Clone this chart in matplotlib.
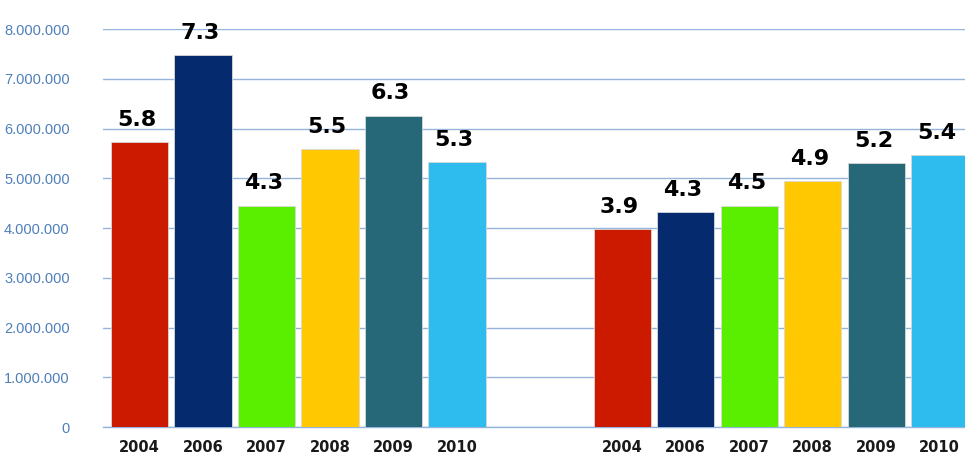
import numpy as np
import matplotlib.pyplot as plt

# 数据
years = ['2004', '2006', '2007', '2008', '2009', '2010']
group1 = [5.73, 7.48, 4.45, 5.59, 6.26, 5.33]   # 百万
group2 = [3.98, 4.32, 4.45, 4.94, 5.31, 5.47]
labels1 = ['5.8', '7.3', '4.3', '5.5', '6.3', '5.3']
labels2 = ['3.9', '4.3', '4.5', '4.9', '5.2', '5.4']
colors = ['#cc1a00', '#052a6e', '#5aee00', '#ffc800', '#266878', '#2ebbee']
yticks = [0, 1000000, 2000000, 3000000, 4000000, 5000000, 6000000, 7000000, 8000000]

fig = plt.figure(figsize=(9.65, 4.59), dpi=100)
ax = fig.add_axes([0.1067, 0.0697, 0.8933, 0.8665])

x1 = np.arange(6)
x2 = x1 + 7.6
v1 = np.array(group1) * 1e6
v2 = np.array(group2) * 1e6

for xs, vs, labs in [(x1, v1, labels1), (x2, v2, labels2)]:
    ax.bar(xs, vs, width=0.9, color=colors, edgecolor='#d8d8d8', linewidth=0.6, zorder=3)
    for x, v, t in zip(xs, vs, labs):
        ax.annotate(t, (x, v), xytext=(-2, 9), textcoords='offset points',
                    ha='center', va='bottom', fontsize=16, fontweight='heavy',
                    family='DejaVu Sans', color='black', annotation_clip=False)

ax.set_xlim(-0.575, 13.0)
ax.set_ylim(0, 8000000)
ax.set_yticks(yticks)
ax.set_yticklabels(['0' if v == 0 else f'{v:,}'.replace(',', '.') for v in yticks],
                   family='Liberation Sans', fontsize=10.5, color='#4f7fba')
ax.yaxis.grid(True, color='#94b4dc', linewidth=1, zorder=0)
ax.set_axisbelow(True)
ax.tick_params(axis='y', length=0, pad=24)

ax.set_xticks(list(x1) + list(x2))
ax.set_xticklabels(years + years, fontsize=10.5, fontweight='bold', color='#1a1a1a',
                   family='DejaVu Sans')
ax.tick_params(axis='x', length=0, pad=9)

for s in ['top', 'right', 'left']:
    ax.spines[s].set_visible(False)
ax.spines['bottom'].set_color('#94b4dc')
ax.spines['bottom'].set_linewidth(1)

fig.savefig('out.png', dpi=100)
